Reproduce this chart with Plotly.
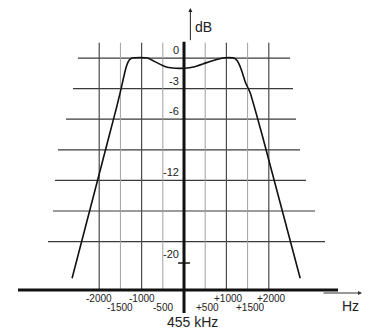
import plotly.graph_objects as go

# ---- data ----
freq_hz = [-2640, -1745, -1600, -1500, -1440, -1390, -1340, -1290, -1226,
           -1040, -850, -760, -640, -520, -400, -200, 0, 250, 500, 730, 920,
           1060, 1180, 1260, 1320, 1380, 1450, 1560, 1840, 2740]
atten_db = [-21.6, -7.3, -5.0, -3.3, -2.2, -1.3, -0.6, -0.2, 0.0,
            0.05, 0.0, -0.2, -0.45, -0.7, -0.9, -1.0, -1.0, -0.85, -0.5, -0.2, 0.0,
            0.05, 0.0, -0.3, -0.8, -1.5, -2.4, -3.4, -7.5, -21.6]

grid_db = [0, -3, -6, -9, -12, -15, -18]
grid_left_hz = [-2500, -2618, -2783, -2972, -3042, -3090, -3208]
grid_right_hz = [2500, 2571, 2642, 2736, 2877, 3090, 3325]

major_hz = [-2000, -1000, 1000, 2000]
minor_hz = [-1500, -500, 500, 1500]

x_tick_vals = [-2000, -1500, -1000, -500, 500, 1000, 1500, 2000]
x_tick_text = ["-2000", "-1500", "-1000", "-500", "+500", "+1000", "+1500", "+2000"]
y_tick_vals = [0, -3, -6, -12, -20]
y_tick_text = ["0", "-3", "-6", "-12", "-20"]

FONT = "Liberation Sans, Arial, sans-serif"
TOP = 1.5        # top of vertical grid lines (dB)
BASE = -22.75    # baseline (dB)

fig = go.Figure()
shapes = []
for d, l, r in zip(grid_db, grid_left_hz, grid_right_hz):
    shapes.append(dict(type="line", xref="x", yref="y", x0=l, x1=r, y0=d, y1=d,
                       line=dict(color="#3a3a3a", width=1.2), layer="below"))
for f in major_hz:
    shapes.append(dict(type="line", xref="x", yref="y", x0=f, x1=f, y0=TOP, y1=BASE,
                       line=dict(color="#4a4a4a", width=1.2), layer="below"))
for f in minor_hz:
    shapes.append(dict(type="line", xref="x", yref="y", x0=f, x1=f, y0=TOP, y1=BASE,
                       line=dict(color="#a0a0a0", width=1), layer="below"))
# baseline
shapes.append(dict(type="line", xref="x", yref="y", x0=-3915, x1=3632, y0=BASE, y1=BASE,
                   line=dict(color="#111", width=3)))
# vertical axis
shapes.append(dict(type="line", xref="x", yref="y", x0=0, x1=0, y0=-25.0, y1=1.6,
                   line=dict(color="#111", width=3)))
# -20 tick
shapes.append(dict(type="line", xref="x", yref="y", x0=-140, x1=140, y0=-20.1, y1=-20.1,
                   line=dict(color="#111", width=1.5)))

fig.add_trace(go.Scatter(x=freq_hz, y=atten_db, mode="lines",
                         line=dict(color="#111", width=1.6, shape="spline", smoothing=0.3),
                         hoverinfo="skip", showlegend=False))

ann = []
for v, t in zip(x_tick_vals, x_tick_text):
    low = abs(v) in (500, 1500)
    ann.append(dict(x=v + (60 if v > 0 else 0), y=BASE, xref="x", yref="y", text=t,
                    showarrow=False, yanchor="top", yshift=-(10 if low else 1),
                    font=dict(family=FONT, size=10, color="#222")))
for v, t in zip(y_tick_vals, y_tick_text):
    ann.append(dict(x=-60, y=v, xref="x", yref="y", text=t, showarrow=False,
                    xanchor="right", yanchor="bottom",
                    font=dict(family=FONT, size=11, color="#222")))
# arrows
ann.append(dict(x=150, y=4.9, ax=150, ay=1.6, xref="x", yref="y", axref="x", ayref="y",
                showarrow=True, arrowhead=2, arrowsize=0.8, arrowwidth=1, arrowcolor="#222", text=""))
ann.append(dict(x=4198, y=-23.04, ax=3255, ay=-23.04, xref="x", yref="y", axref="x", ayref="y",
                showarrow=True, arrowhead=2, arrowsize=0.8, arrowwidth=1, arrowcolor="#333", text=""))
ann.append(dict(x=212, y=3.04, xref="x", yref="y", text="dB", showarrow=False,
                xanchor="left", font=dict(family=FONT, size=14, color="#222")))
ann.append(dict(x=3915, y=-24.3, xref="x", yref="y", text="Hz", showarrow=False,
                font=dict(family=FONT, size=14, color="#222")))
ann.append(dict(x=189, y=-25.9, xref="x", yref="y", text="455 kHz", showarrow=False,
                font=dict(family=FONT, size=14, color="#222")))

fig.update_layout(
    width=372, height=334, margin=dict(l=0, r=0, t=0, b=0),
    paper_bgcolor="white", plot_bgcolor="white",
    xaxis=dict(range=[-4340, 4434], visible=False, fixedrange=True),
    yaxis=dict(range=[-27.06, 5.69], visible=False, fixedrange=True),
    shapes=shapes, annotations=ann, showlegend=False,
)
fig.write_html("out.html")
